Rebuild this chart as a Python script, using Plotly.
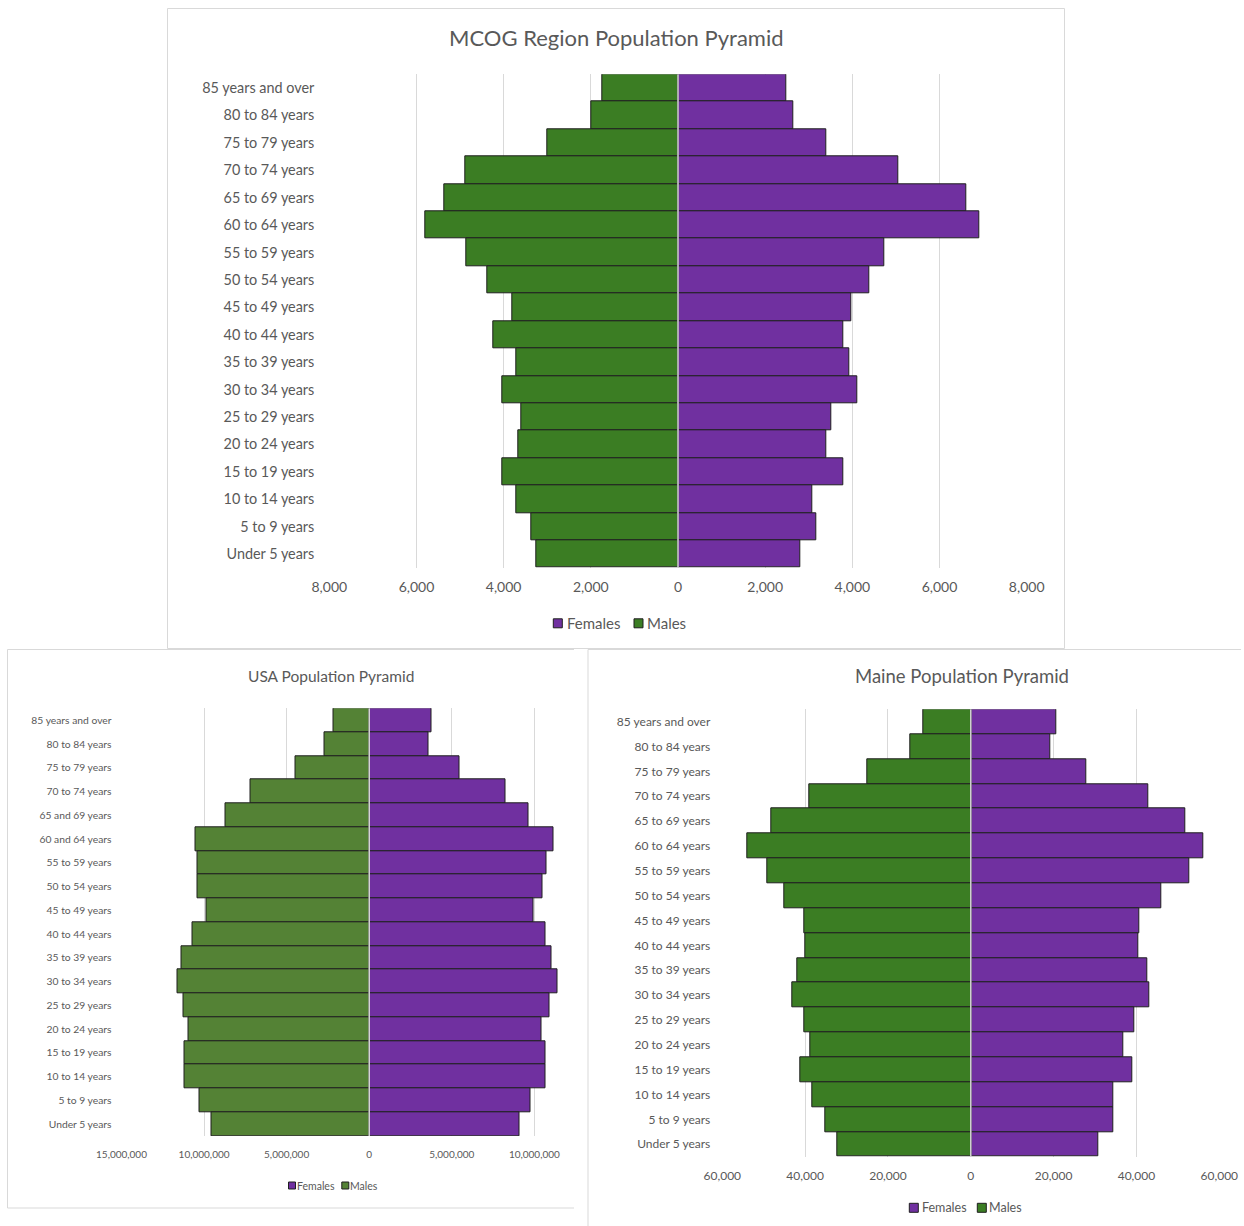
import plotly.graph_objects as go

W, H = 1244, 1226

# ---------------------------------------------------------------- data
age_groups = [
    "85 years and over", "80 to 84 years", "75 to 79 years", "70 to 74 years",
    "65 to 69 years", "60 to 64 years", "55 to 59 years", "50 to 54 years",
    "45 to 49 years", "40 to 44 years", "35 to 39 years", "30 to 34 years",
    "25 to 29 years", "20 to 24 years", "15 to 19 years", "10 to 14 years",
    "5 to 9 years", "Under 5 years",
]
usa_age_groups = [
    "85 years and over", "80 to 84 years", "75 to 79 years", "70 to 74 years",
    "65 and 69 years", "60 and 64 years", "55 to 59 years", "50 to 54 years",
    "45 to 49 years", "40 to 44 years", "35 to 39 years", "30 to 34 years",
    "25 to 29 years", "20 to 24 years", "15 to 19 years", "10 to 14 years",
    "5 to 9 years", "Under 5 years",
]

mcog_females = [2480, 2640, 3400, 5050, 6610, 6920, 4730, 4380, 3980, 3800,
                3940, 4110, 3510, 3400, 3790, 3080, 3170, 2810]
mcog_males = [1740, 2000, 3000, 4880, 5360, 5790, 4860, 4380, 3810, 4240,
              3710, 4020, 3590, 3670, 4030, 3720, 3370, 3240]

usa_females = [3800000, 3580000, 5450000, 8240000, 9660000, 11170000, 10710000,
               10490000, 9960000, 10670000, 11050000, 11390000, 10910000,
               10450000, 10670000, 10690000, 9740000, 9110000]
usa_males = [2180000, 2700000, 4440000, 7210000, 8730000, 10520000, 10420000,
             10420000, 9880000, 10730000, 11350000, 11610000, 11250000,
             10950000, 11190000, 11170000, 10300000, 9580000]

maine_females = [20700, 19200, 27900, 42800, 51900, 56200, 52800, 46000, 40700,
                 40500, 42500, 43200, 39500, 36800, 38900, 34500, 34500, 30700]
maine_males = [11400, 14700, 25000, 39000, 48100, 54000, 49100, 45000, 40300,
               39900, 42000, 43000, 40300, 38800, 41100, 38200, 35100, 32300]

mcog_ticks = [-8000, -6000, -4000, -2000, 0, 2000, 4000, 6000, 8000]
usa_ticks = [-15000000, -10000000, -5000000, 0, 5000000, 10000000]
maine_ticks = [-60000, -40000, -20000, 0, 20000, 40000, 60000]

series_names = ["Females", "Males"]

# ---------------------------------------------------------------- styling
PURPLE = "#7030A0"
GREEN_DARK = "#3B7D23"
GREEN_USA = "#548235"
EDGE = "#1f1f1f"
GRID = "#d9d9d9"
TEXT = "#595959"
SANS = "Lato"


def px(x):
    return x / W


def py(y):
    return 1 - y / H


def fmt(v):
    return f"{abs(v):,.0f}"


panels = [
    dict(ax="", cats=age_groups, fem=mcog_females, mal=mcog_males, green=GREEN_DARK,
         ticks=mcog_ticks, rng=[-8000, 8000], xd=(329.3, 1026.7), yd=(74.3, 567.7),
         cat_size=14.4, tick_size=14, cat_off=14, tick_off=9,
         title="MCOG Region Population Pyramid", title_xy=(616, 37), title_size=22,
         # legend: swatch size, y centre, [(swatch left, text left), ...], font size
         leg_box=9, leg_y=623.3, leg_x=[(553.3, 566.0), (634.0, 646.5)], leg_size=15),
    dict(ax="2", cats=usa_age_groups, fem=usa_females, mal=usa_males, green=GREEN_USA,
         ticks=usa_ticks, rng=[-15000000, 12400000], xd=(121.5, 574.0), yd=(708.3, 1136.0),
         cat_size=10.3, tick_size=10, cat_off=9, tick_off=11,
         title="USA Population Pyramid", title_xy=(331, 676), title_size=15.5,
         leg_box=7, leg_y=1185.5, leg_x=[(288.5, 295.5), (341.8, 349.2)], leg_size=10.5),
    dict(ax="3", cats=age_groups, fem=maine_females, mal=maine_males, green=GREEN_DARK,
         ticks=maine_ticks, rng=[-60000, 60000], xd=(722.3, 1219.3), yd=(709.3, 1156.7),
         cat_size=12, tick_size=12, cat_off=11, tick_off=10,
         title="Maine Population Pyramid", title_xy=(962, 676), title_size=18.5,
         leg_box=9, leg_y=1207.8, leg_x=[(909.3, 921.0), (977.3, 987.5)], leg_size=12.5),
]

fig = go.Figure()
layout = {}
shapes = []
annotations = []

for p in panels:
    xa, ya = "x" + p["ax"], "y" + p["ax"]
    colors = [PURPLE, p["green"]]
    fig.add_trace(go.Bar(
        y=p["cats"], x=p["fem"], orientation="h", name=series_names[0],
        marker=dict(color=colors[0], line=dict(color=EDGE, width=1)),
        xaxis=xa, yaxis=ya, showlegend=False,
    ))
    fig.add_trace(go.Bar(
        y=p["cats"], x=[-v for v in p["mal"]], orientation="h", name=series_names[1],
        marker=dict(color=colors[1], line=dict(color=EDGE, width=1)),
        xaxis=xa, yaxis=ya, showlegend=False,
    ))
    layout["xaxis" + p["ax"]] = dict(
        domain=[px(p["xd"][0]), px(p["xd"][1])], range=p["rng"], anchor=ya,
        tickvals=p["ticks"], ticktext=[fmt(t) for t in p["ticks"]],
        showgrid=True, gridcolor=GRID, gridwidth=1, zeroline=False,
        showline=False, ticks="", ticklabelstandoff=p["tick_off"], automargin=False,
        tickfont=dict(family=SANS, size=p["tick_size"], color=TEXT),
        fixedrange=True,
    )
    layout["yaxis" + p["ax"]] = dict(
        domain=[py(p["yd"][1]), py(p["yd"][0])], anchor=xa, type="category",
        autorange="reversed", showgrid=False, zeroline=False, showline=False,
        ticks="", ticklabelstandoff=p["cat_off"], automargin=False,
        tickfont=dict(family=SANS, size=p["cat_size"], color=TEXT),
        fixedrange=True,
    )
    # vertical axis line at zero, drawn over the bars
    shapes.append(dict(type="line", xref=xa, yref=ya + " domain", x0=0, x1=0,
                       y0=0, y1=1, line=dict(color=GRID, width=1.5), layer="above"))

    # chart title
    tx, ty = p["title_xy"]
    annotations.append(dict(text=p["title"], x=px(tx), y=py(ty), xref="paper", yref="paper",
                            showarrow=False, xanchor="center", yanchor="middle",
                            font=dict(family=SANS, size=p["title_size"], color=TEXT)))

    # compact legend: small square swatch right before each series name
    b = p["leg_box"]
    for name, col, (sx, tx2) in zip(series_names, colors, p["leg_x"]):
        shapes.append(dict(type="rect", xref="paper", yref="paper",
                           x0=px(sx), x1=px(sx + b),
                           y0=py(p["leg_y"] + b / 2), y1=py(p["leg_y"] - b / 2),
                           fillcolor=col, line=dict(color=EDGE, width=1)))
        annotations.append(dict(text=name, x=px(tx2 - 1), y=py(p["leg_y"]),
                                xref="paper", yref="paper", showarrow=False,
                                xanchor="left", yanchor="middle",
                                font=dict(family=SANS, size=p["leg_size"], color=TEXT)))

# chart frames
frame = dict(color=GRID, width=1)
shapes += [
    dict(type="rect", xref="paper", yref="paper", x0=px(167.5), x1=px(1064.5),
         y0=py(648.5), y1=py(8.5), line=frame, layer="below"),
    dict(type="line", xref="paper", yref="paper", x0=px(7.5), x1=px(574),
         y0=py(649.5), y1=py(649.5), line=frame),
    dict(type="line", xref="paper", yref="paper", x0=px(7.5), x1=px(7.5),
         y0=py(649.5), y1=py(1208), line=frame),
    dict(type="line", xref="paper", yref="paper", x0=px(7.5), x1=px(574),
         y0=py(1208), y1=py(1208), line=frame),
    dict(type="line", xref="paper", yref="paper", x0=px(588), x1=px(1241),
         y0=py(649.5), y1=py(649.5), line=frame),
    dict(type="line", xref="paper", yref="paper", x0=px(588), x1=px(588),
         y0=py(649.5), y1=0, line=frame),
]

fig.update_layout(
    width=W, height=H, margin=dict(l=0, r=0, t=0, b=0, autoexpand=False),
    paper_bgcolor="white", plot_bgcolor="white",
    barmode="relative", bargap=0,
    showlegend=False,
    shapes=shapes, annotations=annotations,
    **layout,
)

fig.write_html("out.html")
